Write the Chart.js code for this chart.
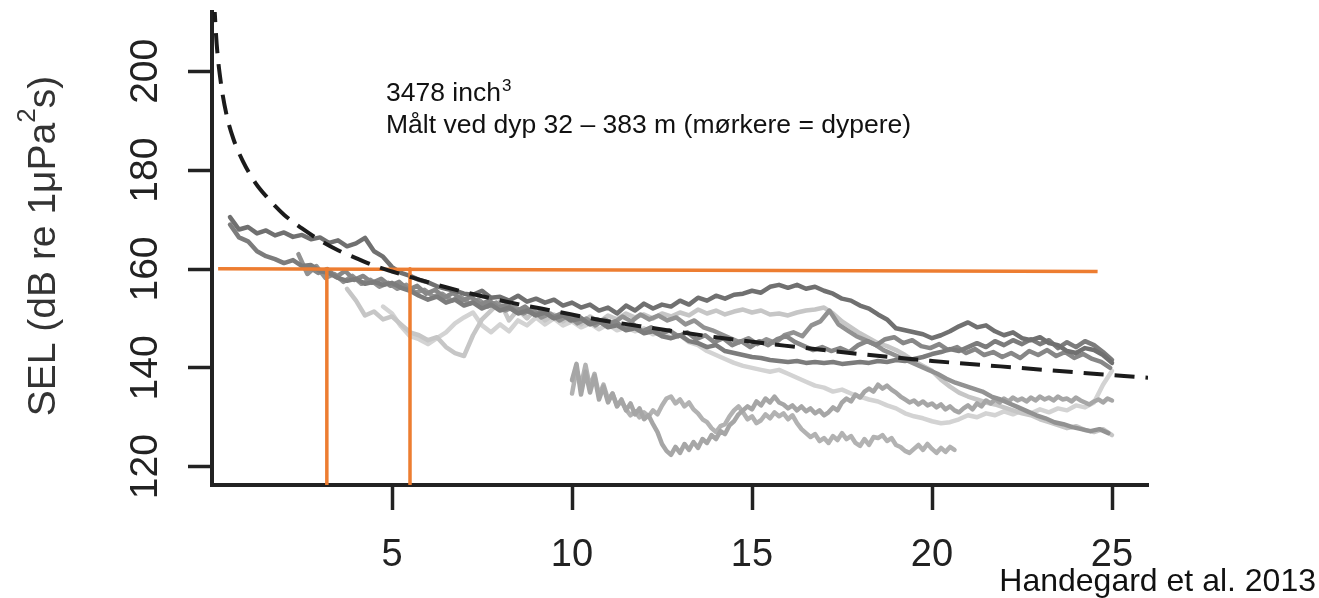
<!DOCTYPE html>
<html>
<head>
<meta charset="utf-8">
<script src="https://cdn.jsdelivr.net/npm/chart.js@4.4.1/dist/chart.umd.min.js"></script>
<style>
  html, body { margin: 0; padding: 0; background: #ffffff; }
  #wrap { width: 1319px; height: 598px; position: relative; }
</style>
</head>
<body>
<div id="wrap"><canvas id="c" width="1319" height="598"></canvas></div>
<script>
// Axis ticks
const xTicks = [5, 10, 15, 20, 25];
const yTicks = [120, 140, 160, 180, 200];

// Modelled SEL versus range (dashed curve)
const modelRange = [0.06, 0.13, 0.25, 0.41, 0.6, 0.86, 1.2, 1.52, 2.0, 2.5, 3.0, 3.5, 4.0, 4.5, 5.0, 5.5, 6.5, 7.5, 8.5, 9.5, 10.7, 12.2, 14.0, 15.9, 18.0, 20.0, 21.9, 24.0, 26.0];
const modelSEL   = [214, 205.5, 197.5, 191, 186.2, 181.8, 177.5, 174.6, 171, 168.2, 165.8, 163.8, 162.2, 160.7, 159.5, 158.4, 156.3, 154.5, 152.9, 151.5, 149.8, 148.1, 146.2, 144.5, 142.8, 141.4, 140.3, 139.1, 138.0];

// 160 dB threshold and the ranges where it is crossed
const thresholdRange = [0.17, 24.6];
const thresholdSEL   = [160.05, 159.5];
const crossingRanges = [3.19, 5.5];

// Measured SEL traces: first range (km), range spacing, values (dB)
const trace1Start = 0.5, trace1Step = 0.25;
const trace1 = [170.5,168.0,168.5,167.2,167.8,166.8,167.4,166.5,166.9,166.0,
  166.4,165.3,165.8,164.6,165.2,166.3,163.6,162.5,160.4,159.2,
  158.6,157.8,157.3,156.5,156.0,155.6,155.0,154.8,155.6,154.2,
  154.4,153.6,154.6,153.4,154.0,153.2,153.8,152.6,153.2,152.2,
  152.8,151.6,152.2,151.0,152.6,151.6,153.0,152.0,152.8,152.4,
  153.6,152.8,154.2,153.6,154.6,154.0,154.8,155.0,155.6,155.2,
  156.4,156.8,156.2,156.8,156.0,156.4,155.6,155.0,154.0,153.6,
  152.6,152.0,150.8,149.8,148.0,147.6,147.2,146.8,146.0,146.6,
  147.4,148.4,149.2,148.2,148.6,147.4,146.6,147.2,146.0,145.6,
  146.2,145.0,144.6,143.4,143.0,144.0,143.6,142.6,141.0];

const trace2Start = 0.5, trace2Step = 0.25;
const trace2 = [169.0,166.4,165.6,163.6,162.6,162.0,161.2,161.8,160.6,160.8,
  159.6,159.2,158.2,157.6,158.0,157.0,157.4,156.8,157.2,156.2,
  155.6,154.6,153.8,154.4,153.2,153.8,152.6,153.2,152.0,152.8,
  151.6,152.2,151.0,151.6,150.6,151.2,150.0,150.6,149.6,150.0,
  148.8,149.4,148.2,148.6,147.6,148.0,147.0,147.4,146.4,146.0,
  146.6,145.4,145.0,144.2,144.6,143.4,143.0,142.6,142.2,142.0,
  141.6,141.4,141.2,141.4,141.0,141.2,141.0,141.2,140.8,141.0,
  141.2,141.0,141.4,141.2,141.6,141.4,141.8,142.2,142.8,143.2,
  143.8,143.4,144.2,145.0,144.2,145.4,144.6,145.6,144.8,145.8,
  144.8,145.6,144.0,145.2,144.2,145.4,144.6,143.2,141.6];

const trace3Start = 2.7, trace3Step = 0.25;
const trace3 = [160.4,159.2,160.0,158.4,159.6,157.8,158.6,157.2,158.0,156.6,
  157.4,155.8,156.6,155.0,155.8,154.2,155.2,153.6,154.4,152.8,
  153.6,152.2,152.8,151.4,152.4,150.8,151.6,150.2,151.0,149.6,
  150.4,149.0,149.8,148.6,149.4,148.0,148.8,147.4,148.2,146.8,
  147.6,146.4,147.2,145.8,146.6,145.2,146.0,144.6,145.4,144.2,
  145.4,144.6,145.8,146.4,145.2,144.4,143.6,144.2,143.4,144.0,
  143.2,144.6,145.4,144.6,145.8,146.2,145.0,145.6,144.4,144.0,
  144.8,143.6,144.2,143.0,143.8,142.6,143.2,142.2,143.0,142.0,
  143.4,142.6,143.6,142.4,143.2,142.0,142.8,141.8,141.2,140.0];

const trace4Start = 2.4, trace4Step = 0.25;
const trace4 = [163.0,159.0,160.6,158.2,159.0,157.4,158.6,157.0,157.8,156.4,
  157.2,156.0,156.8,155.2,155.8,154.4,155.0,153.6,154.4,153.0,
  153.8,152.4,153.2,151.6,152.4,151.0,151.8,150.2,151.0,149.6,
  150.6,149.0,150.0,148.6,149.8,149.0,150.4,149.4,150.8,149.8,
  150.6,149.6,150.2,148.8,149.6,148.2,147.6,146.8,146.0,145.2,
  146.0,144.8,145.8,145.0,146.6,147.2,146.4,148.6,149.4,151.6,
  148.8,147.6,146.4,145.6,144.8,143.6,142.8,142.0,141.2,140.4,
  139.6,138.8,137.8,137.0,136.4,135.8,135.2,134.2,133.6,132.8,
  132.0,131.2,130.4,129.8,129.0,128.6,128.0,127.6,127.2,127.6,126.8];

const trace5Start = 10.0, trace5Step = 0.125;
const trace5 = [137.5,140.8,134.6,139.2,135.0,138.4,133.6,136.2,133.0,134.8,
  132.2,133.6,131.4,132.8,130.6,131.8,129.6,130.4,128.6,127.0,
  124.6,123.2,122.4,124.0,122.8,124.6,123.4,125.0,123.8,125.6,
  124.8,126.4,125.6,127.2,126.6,128.4,129.2,130.6,131.4,132.2,
  131.6,133.2,132.4,133.8,133.0,134.2,133.0,132.6,131.8,132.4,
  131.4,132.2,131.2,131.8,130.8,131.4,130.4,131.0,132.0,131.4,
  133.0,133.8,133.2,134.6,134.0,135.2,135.8,135.2,136.6,135.8,
  136.4,135.6,135.0,134.2,133.6,133.0,133.4,132.6,133.2,132.4,
  132.8,132.0,132.6,131.6,132.2,131.4,131.0,131.8,132.4,131.6,
  132.8,132.2,133.4,132.8,133.6,133.0,133.8,133.2,134.0,133.4,
  133.8,133.2,134.0,133.4,134.2,133.6,134.0,133.4,134.2,133.6,
  133.8,133.2,134.0,133.4,133.0,132.6,133.2,133.6,133.0,133.8,
  133.4];

const trace6Start = 10.0, trace6Step = 0.125;
const trace6 = [134.8,139.6,136.4,140.6,136.0,138.8,134.4,136.6,133.6,134.8,
  132.4,133.2,131.6,130.4,131.2,130.0,131.0,130.2,131.4,130.6,
  132.4,133.8,134.2,132.8,133.6,132.2,133.0,131.6,130.8,129.6,
  129.0,127.8,127.0,128.2,128.6,130.2,131.4,132.2,131.0,129.6,
  130.2,128.8,129.4,130.6,129.8,131.0,130.2,130.8,129.6,130.4,
  128.8,127.6,126.8,126.0,126.6,125.2,125.8,124.8,126.2,125.4,
  126.8,125.6,126.2,124.8,124.2,125.6,124.4,126.0,125.8,126.4,
  125.2,125.8,124.4,124.0,123.2,122.8,123.6,124.4,123.4,124.6,
  123.6,122.8,123.8,123.0,124.0,123.4];

const trace7Start = 3.75, trace7Step = 0.25;
const trace7 = [156.0,153.6,150.6,151.4,149.8,150.4,148.8,147.2,146.6,145.6,
  146.2,144.2,143.0,142.4,146.6,149.8,151.6,153.4,149.6,151.8,
  150.0,152.0,149.6,150.8,149.4,150.6,148.8,150.4,149.2,150.6,
  149.8,151.0,150.2,150.8,150.0,151.0,150.4,151.2,150.6,151.8,
  151.0,151.6,150.8,151.4,151.8,151.2,151.6,150.8,151.0,150.6,
  151.2,151.6,151.8,152.2,151.0,149.4,148.2,147.0,146.0,145.0,
  144.4,143.6,142.6,141.4,140.4,139.4,137.6,136.2,135.0,134.2,
  133.6,133.0,132.6,132.0,131.4,130.8,130.4,129.6,129.0,128.4,
  127.8,128.2,127.4,127.0,127.6,126.4];

const trace8Start = 4.75, trace8Step = 0.25;
const trace8 = [152.4,151.0,148.4,146.4,145.8,144.8,146.0,147.2,149.0,150.2,
  151.2,148.6,147.2,148.8,147.4,149.6,148.6,150.2,148.8,150.0,
  148.6,149.4,148.2,149.0,147.8,148.8,147.6,148.2,147.4,148.0,
  146.8,147.4,146.0,146.6,145.2,144.6,143.4,142.6,141.8,141.0,
  140.4,140.0,139.6,139.2,139.6,138.8,138.0,137.2,136.4,136.0,
  135.2,135.6,134.8,134.2,133.6,133.2,132.4,131.8,130.8,130.2,
  129.8,129.2,128.8,129.0,129.6,130.4,130.0,130.8,130.4,131.2,
  130.6,131.4,130.8,131.6,131.0,131.8,131.4,132.4,132.0,133.0,
  136.6,139.4];

const FONT = '"Liberation Sans", Arial, Helvetica, sans-serif';

function rangeSeries(start, step, values) {
  return values.map((v, i) => ({ x: start + i * step, y: v }));
}
function pairSeries(xs, ys) {
  return xs.map((x, i) => ({ x: x, y: ys[i] }));
}

const Y_MIN = 116.3, Y_MAX = 212.0;
const ORANGE = '#ed7d31';

const traceStyle = (color) => ({
  borderColor: color, borderWidth: 4.5, pointRadius: 0, tension: 0,
  borderJoinStyle: 'round', borderCapStyle: 'round', fill: false
});

const datasets = [
  Object.assign({ label: 'model', data: pairSeries(modelRange, modelSEL),
    borderDash: [20, 11], cubicInterpolationMode: 'monotone' },
    traceStyle('#1b1b1b'), { borderWidth: 4, borderCapStyle: 'butt' }),
  Object.assign({ label: 'terskel', data: pairSeries(thresholdRange, thresholdSEL) },
    traceStyle(ORANGE), { borderWidth: 3.5, borderCapStyle: 'butt' }),
  Object.assign({ label: 'kryss1', data: [{ x: crossingRanges[0], y: thresholdSEL[0] }, { x: crossingRanges[0], y: Y_MIN }] },
    traceStyle(ORANGE), { borderWidth: 3.5, borderCapStyle: 'butt' }),
  Object.assign({ label: 'kryss2', data: [{ x: crossingRanges[1], y: thresholdSEL[0] }, { x: crossingRanges[1], y: Y_MIN }] },
    traceStyle(ORANGE), { borderWidth: 3.5, borderCapStyle: 'butt' }),
  Object.assign({ label: 't1', data: rangeSeries(trace1Start, trace1Step, trace1) }, traceStyle('#707070')),
  Object.assign({ label: 't2', data: rangeSeries(trace2Start, trace2Step, trace2) }, traceStyle('#7c7c7c')),
  Object.assign({ label: 't3', data: rangeSeries(trace3Start, trace3Step, trace3) }, traceStyle('#878787')),
  Object.assign({ label: 't4', data: rangeSeries(trace4Start, trace4Step, trace4) }, traceStyle('#929292')),
  Object.assign({ label: 't5', data: rangeSeries(trace5Start, trace5Step, trace5) }, traceStyle('#a6a6a6')),
  Object.assign({ label: 't6', data: rangeSeries(trace6Start, trace6Step, trace6) }, traceStyle('#b2b2b2')),
  Object.assign({ label: 't7', data: rangeSeries(trace7Start, trace7Step, trace7) }, traceStyle('#c6c6c6')),
  Object.assign({ label: 't8', data: rangeSeries(trace8Start, trace8Step, trace8) }, traceStyle('#d3d3d3'))
];

// Rotated y tick labels, axis title, annotation and source note
const textPlugin = {
  id: 'textPlugin',
  afterDraw(chart) {
    const ctx = chart.ctx;
    const ys = chart.scales.y;
    ctx.save();

    // y tick labels, rotated
    ctx.fillStyle = '#222';
    ctx.font = '39px ' + FONT;
    ctx.textAlign = 'center';
    ctx.textBaseline = 'alphabetic';
    yTicks.forEach(v => {
      ctx.save();
      ctx.translate(157, ys.getPixelForValue(v));
      ctx.rotate(-Math.PI / 2);
      ctx.fillText(String(v), 0, 0);
      ctx.restore();
    });

    // y axis title with superscript
    const parts = [
      { t: 'SEL (dB re 1\u03bcPa', size: 39, rise: 0 },
      { t: '2', size: 26, rise: 20 },
      { t: 's)', size: 39, rise: 0 }
    ];
    let total = 0;
    parts.forEach(p => { ctx.font = p.size + 'px ' + FONT; p.w = ctx.measureText(p.t).width; total += p.w; });
    ctx.save();
    ctx.translate(55, 246);
    ctx.rotate(-Math.PI / 2);
    ctx.textAlign = 'left';
    ctx.fillStyle = '#333';
    let cx = -total / 2;
    parts.forEach(p => { ctx.font = p.size + 'px ' + FONT; ctx.fillText(p.t, cx, -p.rise); cx += p.w; });
    ctx.restore();

    // annotation
    ctx.fillStyle = '#111';
    ctx.textAlign = 'left';
    ctx.font = '26.5px ' + FONT;
    const l1 = '3478 inch';
    ctx.fillText(l1, 386, 101);
    const w1 = ctx.measureText(l1).width;
    ctx.font = '17px ' + FONT;
    ctx.fillText('3', 386 + w1 + 1, 91);
    ctx.font = '26.5px ' + FONT;
    ctx.fillText('M\u00e5lt ved dyp 32 \u2013 383 m (m\u00f8rkere = dypere)', 386, 133);

    // source
    ctx.font = '32px ' + FONT;
    ctx.textAlign = 'right';
    ctx.fillText('Handegard et al. 2013', 1316, 591);
    ctx.restore();
  }
};

new Chart(document.getElementById('c'), {
  type: 'line',
  data: { datasets: datasets },
  options: {
    responsive: false,
    animation: false,
    devicePixelRatio: 1,
    layout: { padding: { left: 0, top: 12, right: 171, bottom: 0 } },
    plugins: { legend: { display: false }, tooltip: { enabled: false } },
    scales: {
      x: {
        type: 'linear', min: 0, max: 26,
        afterBuildTicks: s => { s.ticks = xTicks.map(v => ({ value: v })); },
        afterFit: s => { s.height = 113; },
        grid: { drawOnChartArea: false, drawTicks: true, tickLength: 25, tickWidth: 3.5, tickColor: '#222' },
        border: { display: true, width: 4, color: '#222' },
        ticks: { padding: 23, color: '#222', font: { size: 38, family: FONT }, maxRotation: 0, autoSkip: false }
      },
      y: {
        type: 'linear', min: Y_MIN, max: Y_MAX,
        afterBuildTicks: s => { s.ticks = yTicks.map(v => ({ value: v })); },
        afterFit: s => { s.width = 212; },
        grid: { drawOnChartArea: false, drawTicks: true, tickLength: 24, tickWidth: 3.5, tickColor: '#222' },
        border: { display: true, width: 4, color: '#222' },
        ticks: { display: false }
      }
    }
  },
  plugins: [textPlugin]
});
</script>
</body>
</html>
